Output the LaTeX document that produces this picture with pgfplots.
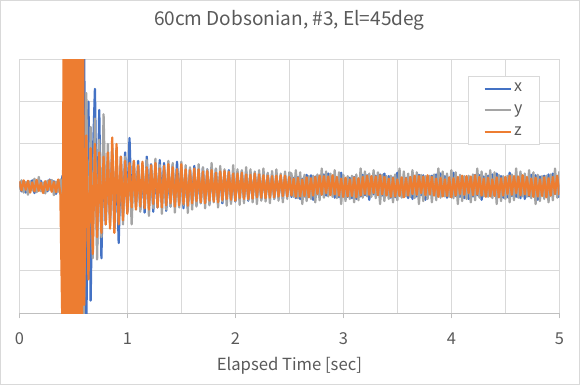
\documentclass[border=0pt]{standalone}
\usepackage{pgfplots}
\usepackage{pgfplotstable}
\pgfplotsset{compat=1.18}
\usepackage{fontspec}
\setmainfont{Noto Sans CJK JP}
\definecolor{cx}{HTML}{4472C4}
\definecolor{cy}{HTML}{A5A5A5}
\definecolor{cz}{HTML}{ED7D31}
\definecolor{gridc}{HTML}{D9D9D9}
\definecolor{axc}{HTML}{BFBFBF}
\definecolor{txt}{HTML}{595959}
\pgfplotstableread{
t ax ay az
0.00 0.10 -0.08 0.12
0.02 -0.12 0.14 -0.10
0.04 0.08 -0.15 0.14
0.06 -0.15 0.10 -0.08
0.08 0.12 -0.20 0.13
0.10 -0.06 0.12 -0.15
0.12 0.14 -0.10 0.09
0.14 -0.16 0.18 -0.12
0.16 0.10 -0.14 0.15
0.18 -0.09 0.22 -0.11
0.20 0.13 -0.12 0.08
0.22 -0.14 0.09 -0.16
0.24 0.07 -0.17 0.12
0.26 -0.12 0.13 -0.09
0.28 0.16 -0.08 0.14
0.30 -0.10 0.15 -0.13
0.32 0.12 -0.21 0.10
0.34 -0.18 0.11 -0.14
0.36 0.09 -0.13 0.16
0.38 -0.13 0.16 -0.18
0.40 0.25 -0.30 -3.50
0.41 -0.80 0.60 3.50
0.42 -1.50 1.20 -3.50
0.43 2.00 -1.80 3.50
0.44 2.80 -2.50 -3.50
0.45 -3.50 3.00 3.50
0.46 -3.50 3.50 -3.50
0.47 3.50 -3.50 3.50
0.48 3.50 -3.50 -3.50
0.49 -3.50 3.50 3.50
0.50 -3.50 3.50 -3.50
0.51 3.50 -3.50 3.50
0.52 3.50 -3.50 -3.50
0.53 -3.50 3.50 3.50
0.54 -3.50 3.50 -3.50
0.55 3.50 -3.50 3.50
0.56 3.50 -3.50 -3.50
0.57 -3.50 3.50 3.50
0.58 -3.50 3.50 -3.50
0.59 3.50 -3.50 3.50
0.60 3.20 -2.60 -2.80
0.62 -3.50 2.20 1.20
0.64 2.00 -2.00 -2.20
0.66 -2.70 1.40 0.90
0.68 0.60 -1.70 -1.60
0.70 2.30 1.60 1.00
0.72 -1.40 -1.73 -1.20
0.74 1.80 1.10 0.80
0.76 -1.70 -1.20 -1.10
0.78 1.00 1.70 0.70
0.80 -0.90 -0.80 -0.90
0.82 0.70 1.00 0.80
0.84 -0.80 -0.90 -1.00
0.86 0.90 0.80 1.15
0.88 -1.00 -0.70 -1.10
0.90 0.60 0.90 1.00
0.92 -1.34 -0.80 -0.90
0.94 0.70 0.60 0.70
0.96 -0.70 -0.90 -0.80
0.98 0.80 0.70 0.60
1.00 -0.60 -0.60 -0.65
1.02 1.14 0.50 0.55
1.04 -0.50 -0.90 -0.50
1.06 0.55 0.60 0.60
1.08 -0.45 -0.55 -0.55
1.10 0.60 0.45 0.50
1.12 -0.55 -0.60 -0.48
1.14 0.40 0.55 0.58
1.16 -0.62 -0.45 -0.52
1.18 0.70 0.62 0.45
1.20 -0.40 -0.70 -0.55
1.22 0.52 0.48 0.50
1.24 -0.60 -0.52 -0.42
1.26 0.45 0.65 0.55
1.28 -0.50 -0.40 -0.50
1.30 0.62 0.50 0.42
1.32 -0.38 -0.65 -0.50
1.34 0.55 0.42 0.48
1.36 -0.58 -0.55 -0.45
1.38 0.40 0.60 0.52
1.40 -0.48 -0.48 -0.40
1.42 0.50 0.55 0.45
1.44 -0.45 -0.62 -0.48
1.46 0.58 0.40 0.40
1.48 -0.40 -0.50 -0.45
1.50 0.45 0.58 0.52
1.52 -0.52 -0.45 -0.42
1.54 0.38 0.50 0.40
1.56 -0.50 -0.63 -0.46
1.58 0.42 0.45 0.38
1.60 -0.35 -0.55 -0.40
1.62 0.48 0.38 0.42
1.64 -0.45 -0.48 -0.35
1.66 0.35 0.52 0.40
1.68 -0.40 -0.40 -0.38
1.70 0.44 0.45 0.35
1.72 -0.38 -0.52 -0.40
1.74 0.40 0.40 0.36
1.76 -0.42 -0.45 -0.34
1.78 0.35 0.55 0.38
1.80 -0.32 -0.38 -0.36
1.82 0.40 0.42 0.32
1.84 -0.38 -0.50 -0.38
1.86 0.34 0.48 0.35
1.88 -0.40 -0.36 -0.32
1.90 0.36 0.40 0.36
1.92 -0.30 -0.46 -0.30
1.94 0.38 0.35 0.34
1.96 -0.35 -0.42 -0.32
1.98 0.30 0.50 0.30
2.00 -0.36 -0.35 -0.34
2.02 0.32 0.40 0.30
2.04 -0.30 -0.44 -0.28
2.06 0.35 0.38 0.32
2.08 -0.28 -0.40 -0.30
2.10 0.33 0.45 0.28
2.12 -0.34 -0.32 -0.30
2.14 0.28 0.40 0.27
2.16 -0.30 -0.38 -0.29
2.18 0.32 0.35 0.30
2.20 -0.26 -0.42 -0.26
2.22 0.30 0.38 0.28
2.24 -0.32 -0.34 -0.27
2.26 0.27 0.42 0.26
2.28 -0.28 -0.36 -0.28
2.30 0.30 0.32 0.25
2.32 -0.25 -0.40 -0.27
2.34 0.28 0.36 0.24
2.36 -0.30 -0.30 -0.26
2.38 0.26 0.40 0.25
2.40 -0.27 -0.34 -0.24
2.42 0.25 0.30 0.26
2.44 -0.29 -0.38 -0.23
2.46 0.27 0.35 0.25
2.48 -0.24 -0.30 -0.24
2.50 0.28 0.33 0.22
2.52 -0.25 0.30 -0.22
2.54 0.20 -0.25 0.18
2.56 -0.28 0.38 -0.25
2.58 0.22 -0.28 0.20
2.60 -0.30 0.33 -0.24
2.62 0.18 -0.42 0.16
2.64 -0.24 0.27 -0.23
2.66 0.27 -0.35 0.21
2.68 -0.21 0.24 -0.26
2.70 0.26 -0.30 0.19
2.72 -0.32 0.25 -0.22
2.74 0.23 -0.38 0.22
2.76 -0.19 0.28 -0.18
2.78 0.25 -0.33 0.25
2.80 -0.20 0.42 -0.20
2.82 0.28 -0.27 0.24
2.84 -0.22 0.35 -0.16
2.86 0.30 -0.24 0.23
2.88 -0.18 0.30 -0.21
2.90 0.24 -0.25 0.26
2.92 -0.27 0.38 -0.19
2.94 0.21 -0.28 0.22
2.96 -0.26 0.33 -0.22
2.98 0.32 -0.42 0.18
3.00 -0.23 0.27 -0.25
3.02 0.19 -0.35 0.20
3.04 -0.25 0.24 -0.24
3.06 0.20 -0.30 0.16
3.08 -0.28 0.25 -0.23
3.10 0.22 -0.38 0.21
3.12 -0.30 0.28 -0.26
3.14 0.18 -0.33 0.19
3.16 -0.24 0.42 -0.22
3.18 0.27 -0.27 0.22
3.20 -0.21 0.35 -0.18
3.22 0.26 -0.24 0.25
3.24 -0.32 0.30 -0.20
3.26 0.23 -0.25 0.24
3.28 -0.19 0.38 -0.16
3.30 0.25 -0.28 0.23
3.32 -0.20 0.33 -0.21
3.34 0.28 -0.42 0.26
3.36 -0.22 0.27 -0.19
3.38 0.30 -0.35 0.22
3.40 -0.18 0.24 -0.22
3.42 0.24 -0.30 0.18
3.44 -0.27 0.25 -0.25
3.46 0.21 -0.38 0.20
3.48 -0.26 0.28 -0.24
3.50 0.32 -0.33 0.16
3.52 -0.23 0.42 -0.23
3.54 0.19 -0.27 0.21
3.56 -0.25 0.35 -0.26
3.58 0.20 -0.24 0.19
3.60 -0.28 0.30 -0.22
3.62 0.22 -0.25 0.22
3.64 -0.30 0.38 -0.18
3.66 0.18 -0.28 0.25
3.68 -0.24 0.33 -0.20
3.70 0.27 -0.42 0.24
3.72 -0.21 0.27 -0.16
3.74 0.26 -0.35 0.23
3.76 -0.32 0.24 -0.21
3.78 0.23 -0.30 0.26
3.80 -0.19 0.25 -0.19
3.82 0.25 -0.38 0.22
3.84 -0.20 0.28 -0.22
3.86 0.28 -0.33 0.18
3.88 -0.22 0.42 -0.25
3.90 0.30 -0.27 0.20
3.92 -0.18 0.35 -0.24
3.94 0.24 -0.24 0.16
3.96 -0.27 0.30 -0.23
3.98 0.21 -0.25 0.21
4.00 -0.26 0.38 -0.26
4.02 0.32 -0.28 0.19
4.04 -0.23 0.33 -0.22
4.06 0.19 -0.42 0.22
4.08 -0.25 0.27 -0.18
4.10 0.20 -0.35 0.25
4.12 -0.28 0.24 -0.20
4.14 0.22 -0.30 0.24
4.16 -0.30 0.25 -0.16
4.18 0.18 -0.38 0.23
4.20 -0.24 0.28 -0.21
4.22 0.27 -0.33 0.26
4.24 -0.21 0.42 -0.19
4.26 0.26 -0.27 0.22
4.28 -0.32 0.35 -0.22
4.30 0.23 -0.24 0.18
4.32 -0.19 0.30 -0.25
4.34 0.25 -0.25 0.20
4.36 -0.20 0.38 -0.24
4.38 0.28 -0.28 0.16
4.40 -0.22 0.33 -0.23
4.42 0.30 -0.42 0.21
4.44 -0.18 0.27 -0.26
4.46 0.24 -0.35 0.19
4.48 -0.27 0.24 -0.22
4.50 0.21 -0.30 0.22
4.52 -0.26 0.25 -0.18
4.54 0.32 -0.38 0.25
4.56 -0.23 0.28 -0.20
4.58 0.19 -0.33 0.24
4.60 -0.25 0.42 -0.16
4.62 0.20 -0.27 0.23
4.64 -0.28 0.35 -0.21
4.66 0.22 -0.24 0.26
4.68 -0.30 0.30 -0.19
4.70 0.18 -0.25 0.22
4.72 -0.24 0.38 -0.22
4.74 0.27 -0.28 0.18
4.76 -0.21 0.33 -0.25
4.78 0.26 -0.42 0.20
4.80 -0.32 0.27 -0.24
4.82 0.23 -0.35 0.16
4.84 -0.19 0.24 -0.23
4.86 0.25 -0.30 0.21
4.88 -0.20 0.25 -0.26
4.90 0.28 -0.38 0.19
4.92 -0.22 0.28 -0.22
4.94 0.30 -0.33 0.22
4.96 -0.18 0.42 -0.18
4.98 0.24 -0.27 0.25
5.00 -0.27 0.35 -0.20
}\datatable
\begin{document}
\begin{tikzpicture}
\path[use as bounding box] (0,0) rectangle (435pt,288.75pt);
\draw[gridc, line width=0.75pt] (0.4pt,0.4pt) rectangle (434.6pt,288.35pt);
\begin{axis}[
  at={(14.5pt,53.8pt)}, anchor=south west,
  scale only axis, width=405pt, height=190.5pt,
  xmin=0, xmax=5, ymin=-3, ymax=3,
  xtick={0,1,2,3,4,5},
  minor xtick={0.5,1.5,2.5,3.5,4.5},
  ytick={-3,-2,-1,0,1,2,3}, yticklabels={},
  grid=both,
  major grid style={gridc, line width=0.75pt},
  minor grid style={gridc, line width=0.75pt},
  axis x line*=bottom, axis y line*=left,
  x axis line style={axc, line width=0.75pt, -},
  y axis line style={draw=none},
  tick align=outside,
  major tick length=3.75pt, minor tick length=0pt,
  xtick style={axc, line width=0.75pt},
  ytick style={draw=none},
  /pgf/number format/assume math mode=true,
  xticklabel style={font=\fontsize{12.3}{14}\selectfont, text=txt, anchor=base, yshift=-19.3pt},
  xlabel={Elapsed Time [sec]},
  xlabel style={at={(axis description cs:0.5,0)}, anchor=base, yshift=-42.7pt, font=\fontsize{12.5}{15}\selectfont, text=txt},
  title={60cm Dobsonian, \#3, El=45deg},
  title style={at={(axis description cs:0.5,1)}, anchor=base, yshift=19pt, font=\fontsize{14.3}{17}\selectfont, text=txt},
  legend style={at={(0.8315,0.934)}, anchor=north west, draw=gridc, line width=0.75pt, fill=white,
    font=\fontsize{12}{14}\selectfont, text=txt, inner xsep=11pt, inner ysep=2pt, row sep=2.3pt,
    nodes={inner sep=1.5pt, text height=8pt, text depth=3pt}},
  legend cell align=left,
  legend image code/.code={\draw[#1, line width=1.5pt] (0pt,0pt) -- (20pt,0pt);},
]
\addplot[cx, line width=1.7pt, line join=round] table[x=t, y=ax] {\datatable};
\addlegendentry{x}
\addplot[cy, line width=1.7pt, line join=round] table[x=t, y=ay] {\datatable};
\addlegendentry{y}
\addplot[cz, line width=1.7pt, line join=round] table[x=t, y=az] {\datatable};
\addlegendentry{z}
\end{axis}
\end{tikzpicture}
\end{document}
